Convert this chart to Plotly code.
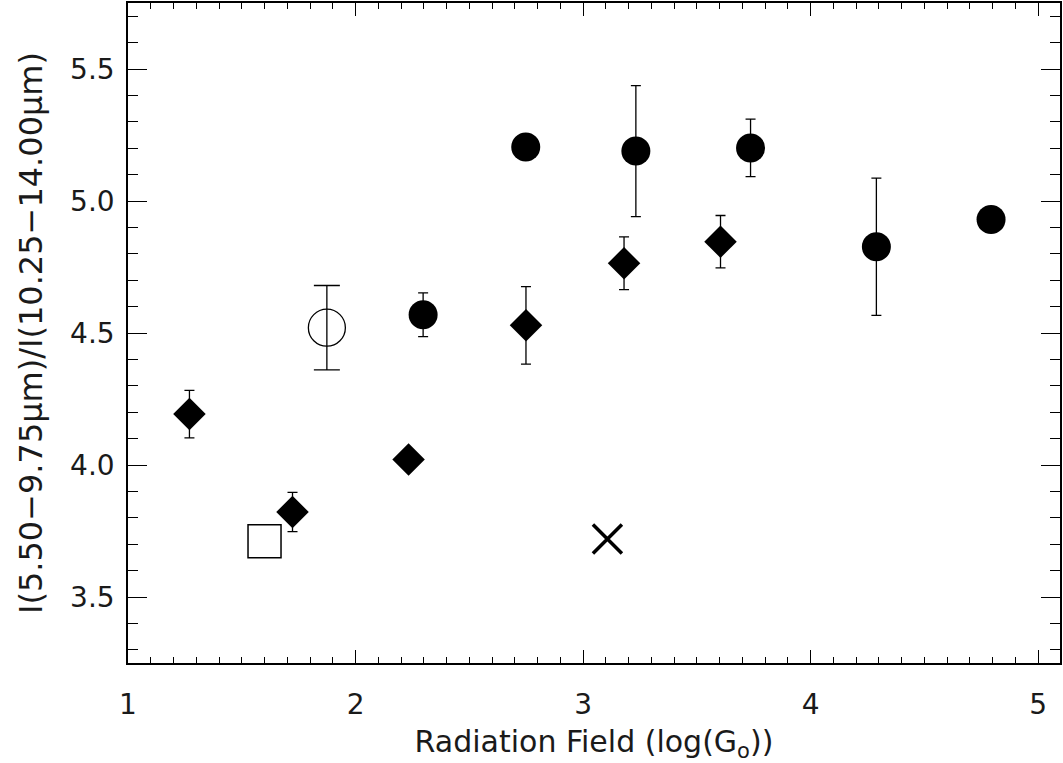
import plotly.graph_objects as go

# PAH band ratio versus radiation field strength
circ_x = [2.297, 2.748, 3.232, 3.736, 4.289, 4.793]
circ_y = [4.569, 5.205, 5.189, 5.201, 4.827, 4.930]
circ_err = [0.083, 0.0, 0.248, 0.109, 0.260, 0.0]

diam_x = [1.270, 1.723, 2.233, 2.749, 3.180, 3.604]
diam_y = [4.193, 3.822, 4.021, 4.529, 4.764, 4.846]
diam_err = [0.090, 0.074, 0.0, 0.147, 0.100, 0.099]

open_circ_x = [1.874]
open_circ_y = [4.520]
open_circ_err = [0.160]

square_x = [1.600]
square_y = [3.711]

cross_x = [3.107]
cross_y = [3.720]

x_ticks = [1, 2, 3, 4, 5]
y_ticks = [3.5, 4.0, 4.5, 5.0, 5.5]

FONT = "DejaVu Sans"
INK = "#000000"
TEXT = "#1a1a1a"

fig = go.Figure()

fig.add_trace(go.Scatter(
    x=diam_x, y=diam_y, mode="markers",
    marker=dict(symbol="diamond", size=25, color=INK, line=dict(width=0)),
    error_y=dict(type="data", array=diam_err, visible=True,
                 color=INK, thickness=1.3, width=5),
))

fig.add_trace(go.Scatter(
    x=circ_x, y=circ_y, mode="markers",
    marker=dict(symbol="circle", size=29, color=INK, line=dict(width=0)),
    error_y=dict(type="data", array=circ_err, visible=True,
                 color=INK, thickness=1.3, width=5),
))

fig.add_trace(go.Scatter(
    x=open_circ_x, y=open_circ_y, mode="markers",
    marker=dict(symbol="circle-open", size=37, color=INK, line=dict(width=1.3, color=INK)),
    error_y=dict(type="data", array=open_circ_err, visible=True,
                 color=INK, thickness=1.3, width=13),
))

fig.add_trace(go.Scatter(
    x=square_x, y=square_y, mode="markers",
    marker=dict(symbol="square-open", size=33, color=INK, line=dict(width=1.5, color=INK)),
))

fig.add_trace(go.Scatter(
    x=cross_x, y=cross_y, mode="markers",
    marker=dict(symbol="x-thin-open", size=29, color=INK, line=dict(width=3.5, color=INK)),
))

axis_common = dict(
    showgrid=False, zeroline=False,
    showline=True, linecolor=INK, linewidth=1.5, mirror="allticks",
    ticks="inside", tickcolor=INK, tickwidth=1,
    tickfont=dict(family=FONT, size=28, color=TEXT),
)

fig.update_layout(
    width=1063, height=763,
    margin=dict(l=128, r=1, t=1, b=100),
    paper_bgcolor="white", plot_bgcolor="white",
    showlegend=False,
    xaxis=dict(
        range=[1, 5.096], tickvals=x_ticks, ticktext=[str(v) for v in x_ticks],
        ticklen=13, ticklabelstandoff=16,
        minor=dict(dtick=0.1, ticklen=6, tickcolor=INK, tickwidth=1, ticks="inside"),
        title=dict(text="Radiation Field (log(G<sub>o</sub>))",
                   font=dict(family=FONT, size=30, color=TEXT), standoff=14),
        **axis_common,
    ),
    yaxis=dict(
        range=[3.25, 5.75], tickvals=y_ticks, ticktext=[f"{v:.1f}" for v in y_ticks],
        ticklen=19, ticklabelstandoff=6,
        minor=dict(dtick=0.1, ticklen=10, tickcolor=INK, tickwidth=1, ticks="inside"),
        title=dict(text="I(5.50\u22129.75\u03bcm)/I(10.25\u221214.00\u03bcm)",
                   font=dict(family=FONT, size=32, color=TEXT), standoff=18),
        **axis_common,
    ),
)

fig.write_html("out.html")
